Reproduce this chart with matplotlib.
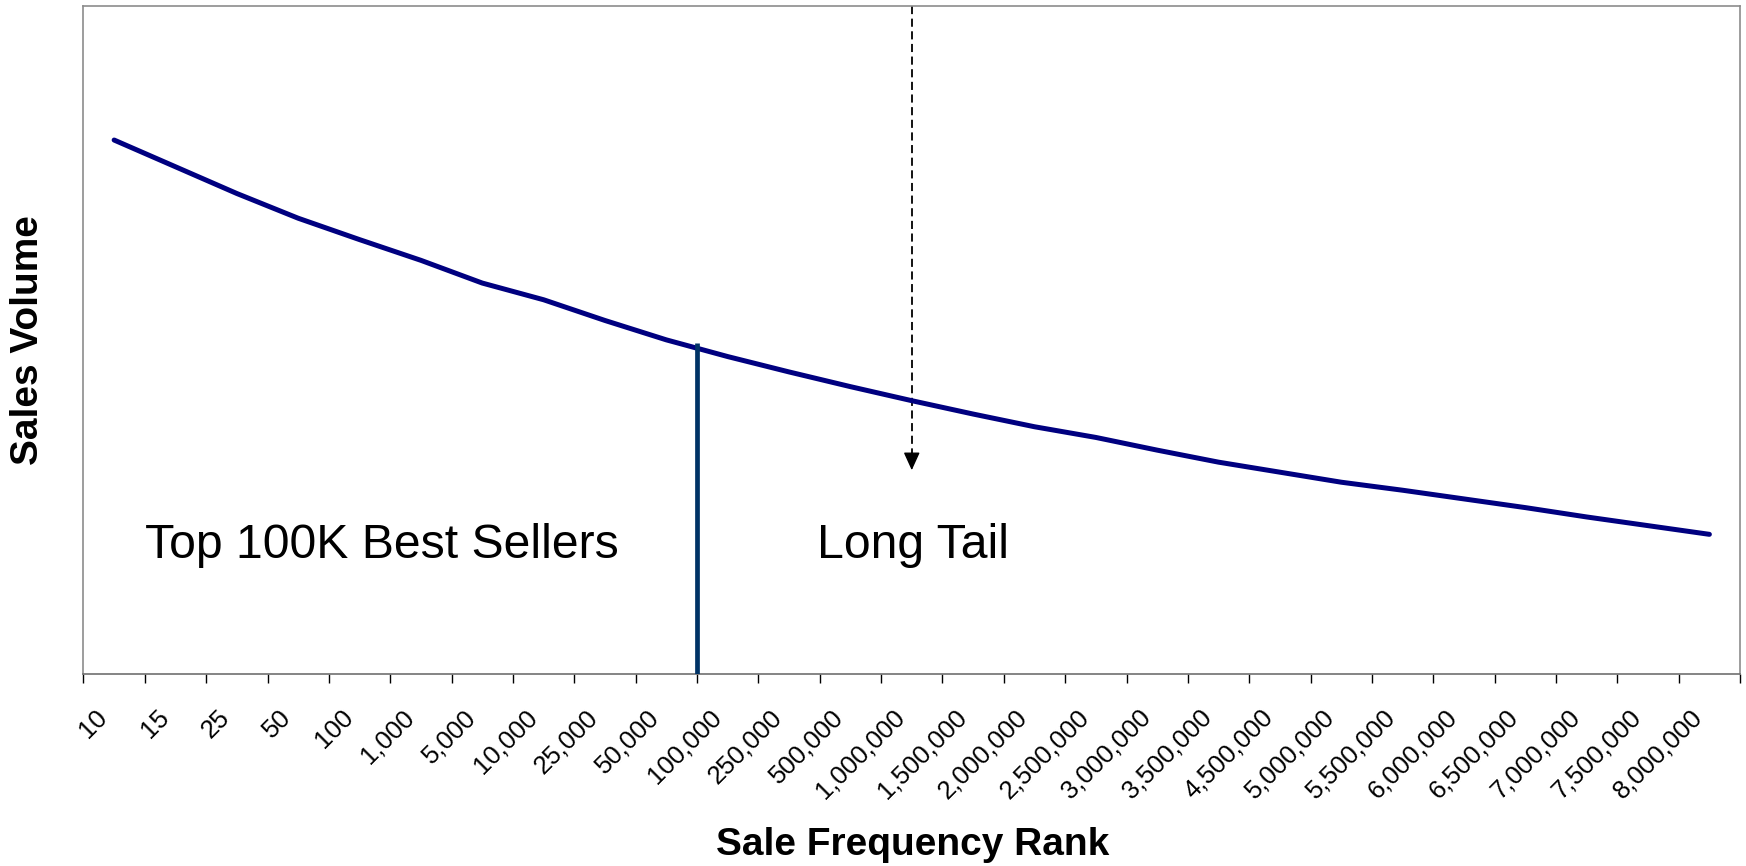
"""Long tail sales curve."""
import matplotlib
matplotlib.use('Agg')
import matplotlib.pyplot as plt
import matplotlib.transforms as mtransforms

plt.rcParams['font.family'] = ['Liberation Sans', 'DejaVu Sans']

# Data
ranks = [
    '10', '15', '25', '50', '100', '1,000', '5,000', '10,000', '25,000',
    '50,000', '100,000', '250,000', '500,000', '1,000,000', '1,500,000',
    '2,000,000', '2,500,000', '3,000,000', '3,500,000', '4,500,000',
    '5,000,000', '5,500,000', '6,000,000', '6,500,000', '7,000,000',
    '7,500,000', '8,000,000',
]
sales_volume = [
    79.9, 75.9, 71.9, 68.2, 65.0, 61.9, 58.5, 56.0, 52.9, 50.0,
    47.5, 45.2, 43.0, 40.9, 38.9, 37.0, 35.4, 33.5, 31.7, 30.2,
    28.7, 27.5, 26.2, 24.9, 23.5, 22.2, 20.9,
]
cutoff_x = 9.5        # between 50,000 and 100,000
cutoff_top = 49.5
arrow_x = 13          # 1,000,000
arrow_tip = 30.5

fig = plt.figure(figsize=(17.46, 8.66), dpi=100)
ax = fig.add_axes([0.0478, 0.2217, 0.9488, 0.7717])

x = list(range(len(ranks)))
ax.plot(x, sales_volume, color='#000080', lw=3.6, solid_capstyle='round',
        solid_joinstyle='round', zorder=3)

# best sellers cutoff
ax.plot([cutoff_x, cutoff_x], [0, cutoff_top], color='#003366', lw=3.4,
        solid_capstyle='butt', zorder=4)

# dashed arrow pointing at the tail
ax.plot([arrow_x, arrow_x], [100, arrow_tip + 2.5], color='black', lw=1.3,
        linestyle=(0, (4.5, 2.5)), zorder=2)
ax.annotate('', xy=(arrow_x, arrow_tip), xytext=(arrow_x, arrow_tip + 2.6),
            arrowprops=dict(arrowstyle='-|>,head_length=1.1,head_width=0.5',
                            color='black', lw=1.0, shrinkA=0, shrinkB=0))

ax.text(0.5, 19.2, 'Top 100K Best Sellers', fontsize=34.7, va='center',
        ha='left')
ax.text(11.46, 19.2, 'Long Tail', fontsize=34.7, va='center', ha='left')

ax.set_xlim(-0.5, len(ranks) - 0.5)
ax.set_ylim(0, 100)
ax.set_yticks([])

# tick marks at category boundaries, rotated labels just left of centres
ax.set_xticks([i - 0.5 for i in range(len(ranks) + 1)])
ax.set_xticklabels([])
ax.tick_params(axis='x', direction='out', length=6.3, width=1.0,
               color='black')
label_trans = ax.get_xaxis_transform() + mtransforms.ScaledTranslation(
    -19 / 100, -31 / 100, fig.dpi_scale_trans)
for xi, lab in zip(x, ranks):
    ax.text(xi, 0, lab, transform=label_trans, rotation=45, ha='right',
            va='top', rotation_mode='anchor', fontsize=18.5)

for side in ['left', 'right', 'top']:
    ax.spines[side].set_color('#8c8c8c')
    ax.spines[side].set_linewidth(1.2)
ax.spines['bottom'].set_color('#707070')
ax.spines['bottom'].set_linewidth(1.2)

fig.text(28 / 1746, 1 - 340 / 866, 'Sales Volume', rotation=90,
         fontsize=28, fontweight='bold', ha='center', va='center')
fig.text(913 / 1746, 1 - 845 / 866, 'Sale Frequency Rank', fontsize=28,
         fontweight='bold', ha='center', va='center')

plt.savefig('out.png', dpi=100)
plt.close()
